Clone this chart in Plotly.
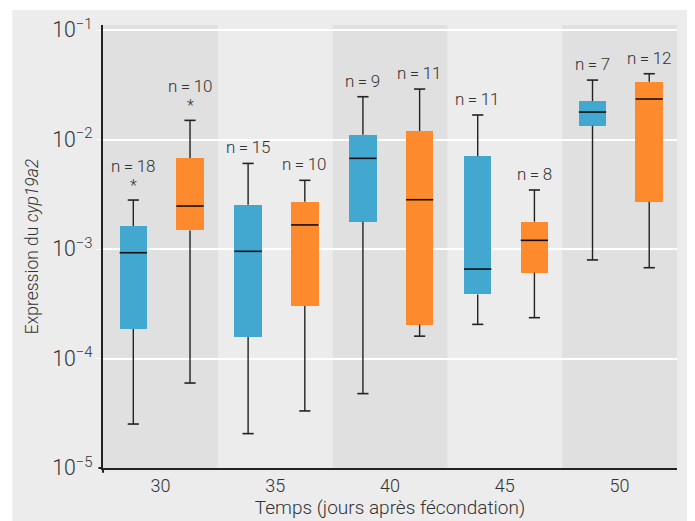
import math
import plotly.graph_objects as go

# ---- data ----
days = [30, 35, 40, 45, 50]
tick_labels = ["30", "35", "40", "45", "50"]

blue_lower = [2.52e-5, 2.06e-5, 4.78e-5, 2.05e-4, 7.95e-4]
blue_q1 = [1.86e-4, 1.57e-4, 1.775e-3, 3.85e-4, 1.336e-2]
blue_median = [9.25e-4, 9.53e-4, 6.73e-3, 6.56e-4, 1.782e-2]
blue_q3 = [1.62e-3, 2.54e-3, 1.107e-2, 7.02e-3, 2.25e-2]
blue_upper = [2.8e-3, 6.05e-3, 2.46e-2, 1.675e-2, 3.49e-2]
blue_n = ["n\u2009=\u200918", "n\u2009=\u200915", "n\u2009=\u20099", "n\u2009=\u200911", "n\u2009=\u20097"]
blue_star = [True, False, False, False, False]

orange_lower = [5.97e-5, 3.32e-5, 1.6e-4, 2.36e-4, 6.75e-4]
orange_q1 = [1.48e-3, 3.01e-4, 2.04e-4, 6.08e-4, 2.7e-3]
orange_median = [2.47e-3, 1.66e-3, 2.82e-3, 1.2e-3, 2.344e-2]
orange_q3 = [6.78e-3, 2.7e-3, 1.197e-2, 1.775e-3, 3.37e-2]
orange_upper = [1.496e-2, 4.24e-3, 2.89e-2, 3.46e-3, 3.99e-2]
orange_n = ["n\u2009=\u200910", "n\u2009=\u200910", "n\u2009=\u200911", "n\u2009=\u20098", "n\u2009=\u200912"]
orange_star = [True, False, False, False, False]

# ---- style ----
BLUE = "#43a8cf"
ORANGE = "#fd8b2d"
DARK = "#222222"
TEXT = "#333333"
PANEL = "#ebeceb"
BAND = "#e0e0e0"
FONT = "Roboto"
OFF_B, OFF_O, BOXW = -1.18, 1.29, 1.2

fig = go.Figure()


def add_group(offset, lower, q1, med, q3, upper, color, labels, stars):
    xs = [d + offset for d in days]
    fig.add_trace(go.Bar(x=xs, y=[b - a for a, b in zip(q1, q3)], base=q1,
                         width=BOXW, marker=dict(color=color, line=dict(width=0)),
                         showlegend=False, hoverinfo="skip"))
    wx, wy = [], []
    for x, lo, a, b, hi in zip(xs, lower, q1, q3, upper):
        wx += [x, x, None, x, x, None]
        wy += [hi, b, None, a, lo, None]
    fig.add_trace(go.Scatter(x=wx, y=wy, mode="lines",
                             line=dict(color=DARK, width=1.4),
                             showlegend=False, hoverinfo="skip"))
    fig.add_trace(go.Scatter(x=xs + xs, y=lower + upper, mode="markers",
                             marker=dict(symbol="line-ew", size=8,
                                         line=dict(color=DARK, width=1.6)),
                             showlegend=False, hoverinfo="skip"))
    fig.add_trace(go.Scatter(x=xs, y=med, mode="markers",
                             marker=dict(symbol="line-ew", size=19.5,
                                         line=dict(color="#111111", width=1.6)),
                             showlegend=False, hoverinfo="skip"))
    for x, hi, lab, st in zip(xs, upper, labels, stars):
        ly = math.log10(hi)
        f = dict(size=17, color=TEXT, family=FONT, weight=300)
        if st:
            fig.add_annotation(x=x, y=ly, text="*", showarrow=False, yshift=15,
                               font=dict(size=16, color=TEXT, family=FONT, weight=300))
            fig.add_annotation(x=x, y=ly, text=lab, showarrow=False, yshift=34, font=f)
        else:
            fig.add_annotation(x=x, y=ly, text=lab, showarrow=False, yshift=16, font=f)


add_group(OFF_B, blue_lower, blue_q1, blue_median, blue_q3, blue_upper, BLUE, blue_n, blue_star)
add_group(OFF_O, orange_lower, orange_q1, orange_median, orange_q3, orange_upper, ORANGE, orange_n, orange_star)

shapes = [dict(type="rect", xref="paper", yref="paper", x0=-0.158, x1=1.027,
               y0=-0.2, y1=1.034, fillcolor=PANEL, line=dict(width=0), layer="below")]
for d in days[::2]:
    shapes.append(dict(type="rect", xref="x", yref="paper", x0=d - 2.5, x1=d + 2.5,
                       y0=0, y1=1, fillcolor=BAND, line=dict(width=0), layer="below"))
shapes.append(dict(type="line", xref="paper", yref="paper", x0=-0.008, x1=0, y0=0, y1=0,
                   line=dict(color=DARK, width=2)))
shapes.append(dict(type="line", xref="paper", yref="paper", x0=0, x1=0, y0=-0.011, y1=0,
                   line=dict(color=DARK, width=2)))

# the page body adds an 8px margin, so the figure is 8px smaller and shifted
fig.update_layout(
    width=687, height=513,
    margin=dict(l=95, r=17.5, t=17, b=53),
    paper_bgcolor="white", plot_bgcolor="rgba(0,0,0,0)",
    shapes=shapes, barmode="overlay", bargap=0,
    font=dict(family=FONT, color=TEXT, size=16, weight=300),
    xaxis=dict(range=[27.5, 52.5], tickvals=days, ticktext=tick_labels,
               showgrid=False, zeroline=False, showline=True, linecolor=DARK, linewidth=2,
               ticks="", tickfont=dict(size=18, color=TEXT, weight=300), automargin=False,
               title=dict(text="Temps (jours après fécondation)", standoff=0,
                          font=dict(size=19, color=TEXT, weight=300))),
    yaxis=dict(type="log", range=[-5, -0.954], dtick=1, exponentformat="power",
               showgrid=True, gridcolor="white", gridwidth=1.5, zeroline=False,
               showline=True, linecolor=DARK, linewidth=2, automargin=False,
               ticks="outside", ticklen=5, tickcolor="white",
               tickfont=dict(size=17, color=TEXT, weight=300),
               title=dict(text="Expression du <i>cyp19a2</i>", standoff=9,
                          font=dict(size=17.5, color=TEXT, weight=300))),
)

fig.write_html("out.html")
